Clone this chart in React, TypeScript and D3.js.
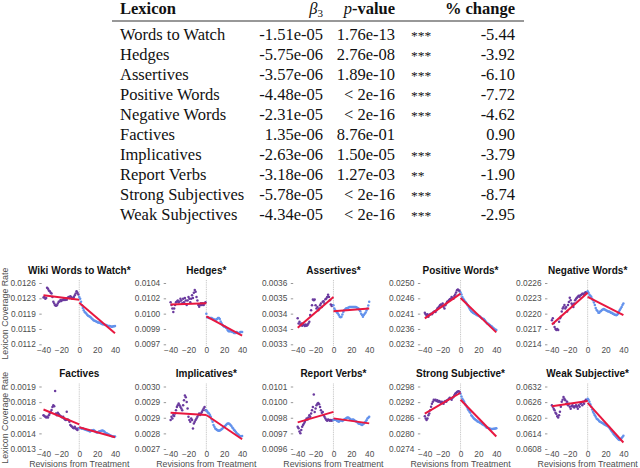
import { useEffect, useRef } from "react";
import * as d3 from "d3";

// ---- table data ----
const lexicons = [
  "Words to Watch",
  "Hedges",
  "Assertives",
  "Positive Words",
  "Negative Words",
  "Factives",
  "Implicatives",
  "Report Verbs",
  "Strong Subjectives",
  "Weak Subjectives",
];
const betas = [
  "-1.51e-05",
  "-5.75e-06",
  "-3.57e-06",
  "-4.48e-05",
  "-2.31e-05",
  "1.35e-06",
  "-2.63e-06",
  "-3.18e-06",
  "-5.78e-05",
  "-4.34e-05",
];
const pValues = [
  "1.76e-13",
  "2.76e-08",
  "1.89e-10",
  "< 2e-16",
  "< 2e-16",
  "8.76e-01",
  "1.50e-05",
  "1.27e-03",
  "< 2e-16",
  "< 2e-16",
];
const stars = ["***", "***", "***", "***", "***", "", "***", "**", "***", "***"];
const changes = ["-5.44", "-3.92", "-6.10", "-7.72", "-4.62", "0.90", "-3.79", "-1.90", "-8.74", "-2.95"];

// ---- panel data (values in units of 1e-5) ----
const UNIT = 1e-5;
const titles = [
  "Wiki Words to Watch*",
  "Hedges*",
  "Assertives*",
  "Positive Words*",
  "Negative Words*",
  "Factives",
  "Implicatives*",
  "Report Verbs*",
  "Strong Subjective*",
  "Weak Subjective*",
];
const xTicks = [-40, -20, 0, 20, 40];

// y tick labels, bottom to top
const wtwTicks = ["0.0112", "0.0115", "0.0119", "0.0123", "0.0126"];
const hedgeTicks = ["0.0097", "0.0099", "0.0100", "0.0102", "0.0104"];
const assertTicks = ["0.0033", "0.0034", "0.0034", "0.0035", "0.0036"];
const posTicks = ["0.0232", "0.0236", "0.0241", "0.0246", "0.0250"];
const negTicks = ["0.0214", "0.0217", "0.0220", "0.0223", "0.0226"];
const factTicks = ["0.0013", "0.0014", "0.0016", "0.0018", "0.0019"];
const implTicks = ["0.0027", "0.0028", "0.0029", "0.0029", "0.0030"];
const reportTicks = ["0.0096", "0.0097", "0.0098", "0.0100", "0.0101"];
const strongTicks = ["0.0274", "0.0280", "0.0286", "0.0292", "0.0298"];
const weakTicks = ["0.0608", "0.0614", "0.0620", "0.0626", "0.0632"];

// pre: revisions -40..-1, post: revisions 0..40
const wtwPre = [1227, 1228, 1224, 1226, 1249, 1247, 1243, 1241, 1238, 1236, 1228, 1217, 1213, 1209, 1208, 1209, 1213, 1217, 1218, 1221, 1219, 1222, 1221, 1224, 1221, 1225, 1222, 1226, 1228, 1226, 1230, 1228, 1224, 1226, 1228, 1232, 1236, 1241, 1238, 1234];
const wtwPost = [1228, 1224, 1217, 1209, 1203, 1198, 1194, 1192, 1190, 1187, 1185, 1184, 1183, 1181, 1179, 1177, 1175, 1174, 1173, 1172, 1171, 1170, 1170, 1169, 1168, 1167, 1166, 1166, 1165, 1164, 1164, 1163, 1162, 1162, 1162, 1161, 1160, 1160, 1161, 1161, 1162];
const hedgePre = [1018, 1015, 1011, 1007, 1011, 1015, 1018, 1019, 1020, 1018, 1019, 1022, 1020, 1017, 1022, 1018, 1023, 1020, 1015, 1020, 1024, 1022, 1018, 1022, 1026, 1023, 1029, 1032, 1030, 1024, 1020, 1015, 1013, 1015, 1017, 1015, 1017, 1015, 1017, 1018];
const hedgePost = [1005, 1001, 1001, 1000, 1000, 1000, 1000, 999, 999, 998, 998, 998, 999, 1000, 1000, 999, 996, 994, 992, 991, 990, 990, 989, 988, 986, 985, 985, 985, 985, 984, 984, 983, 983, 983, 984, 983, 983, 983, 984, 984, 984];
const assertPre = [342.7, 340.2, 341, 339.4, 340.2, 339.1, 340.2, 339.4, 338.9, 339.7, 339.1, 339.4, 340.2, 341, 344.3, 346.7, 349.1, 351.9, 351.6, 351.9, 349.1, 347.5, 348.3, 346.7, 347.5, 349.1, 350, 348.3, 350.8, 351.1, 350, 352.1, 352.4, 353.2, 354.3, 353.2, 351.6, 349.5, 348.8, 349.1];
const assertPost = [349.1, 347.5, 346.7, 346.2, 345.6, 345.1, 344.3, 343.5, 343.2, 343.5, 344.6, 345.8, 346.7, 347, 347.5, 347.6, 347.8, 348, 348.3, 348.3, 348.3, 348.3, 348.3, 348.3, 348.3, 348.2, 348, 347.8, 347.5, 346.8, 346.2, 345, 344.3, 343.5, 344.3, 345, 345.6, 346.5, 347.5, 349, 350.8];
const posPre = [2413, 2408, 2404, 2408, 2401, 2406, 2408, 2410, 2408, 2413, 2415, 2417, 2415, 2420, 2425, 2427, 2430, 2435, 2437, 2435, 2440, 2430, 2425, 2435, 2440, 2445, 2446, 2449, 2452, 2454, 2459, 2456, 2454, 2462, 2466, 2472, 2479, 2481, 2479, 2476];
const posPost = [2472, 2466, 2459, 2454, 2450, 2446, 2443, 2439, 2435, 2430, 2425, 2421, 2417, 2415, 2413, 2411, 2410, 2408, 2406, 2405, 2404, 2402, 2401, 2398, 2396, 2395, 2394, 2391, 2388, 2384, 2381, 2380, 2378, 2376, 2374, 2372, 2369, 2367, 2365, 2363, 2362];
const negPre = [2187, 2191, 2181, 2174, 2170, 2168, 2170, 2168, 2184, 2191, 2194, 2204, 2210, 2213, 2217, 2210, 2213, 2204, 2217, 2223, 2231, 2226, 2220, 2217, 2213, 2220, 2226, 2229, 2231, 2233, 2235, 2233, 2236, 2237, 2239, 2239, 2237, 2241, 2242, 2242];
const negPost = [2244, 2241, 2237, 2235, 2233, 2229, 2226, 2222, 2217, 2211, 2207, 2205, 2202, 2202, 2204, 2205, 2207, 2208, 2209, 2208, 2207, 2206, 2205, 2204, 2204, 2203, 2202, 2202, 2200, 2200, 2198, 2198, 2197, 2198, 2200, 2204, 2207, 2210, 2213, 2217, 2220];
const factPre = [162.5, 161.6, 160.9, 160.3, 160.9, 160.3, 162.5, 164.1, 165.7, 167.5, 170.4, 172, 171, 185.6, 164.1, 162.5, 164.7, 163.5, 162.5, 161.6, 160.9, 160.3, 160.9, 159.3, 158.4, 157.8, 165.7, 158.4, 157.8, 156.2, 153, 152.1, 151.4, 150.5, 149.9, 151.4, 149.9, 148.9, 148.3, 149.9];
const factPost = [149.9, 150.5, 149.9, 149.5, 149.9, 149.2, 148.9, 148.6, 148.3, 148, 147.7, 147.2, 146.7, 147.2, 147.7, 148, 148.3, 147.5, 146.7, 146.2, 145.8, 146.2, 146.7, 147, 147.3, 147.5, 147.7, 147.2, 146.7, 145.9, 145.1, 144.8, 144.5, 144, 143.5, 143, 142.6, 142.3, 142, 142, 142];
const implPre = [283.9, 285.5, 284.7, 286.3, 285.8, 287, 288.6, 290.2, 291, 291.8, 291, 290.2, 289.4, 288.6, 291, 293.4, 295.7, 294.9, 292.6, 289.4, 285.5, 283.9, 283.1, 284.7, 283.9, 279.9, 282.3, 283.1, 283.9, 284.7, 285.5, 286.3, 287, 286.3, 287, 287.8, 288.6, 289.4, 290.2, 288.6];
const implPost = [288.6, 288, 287.4, 287, 286.3, 285.5, 284.2, 283.1, 281.5, 280.7, 279.9, 279.5, 279.1, 278.9, 278.8, 278.9, 279.1, 279.5, 279.9, 280.3, 280.7, 281.1, 281.5, 282, 282.3, 282.2, 282, 281.5, 281, 280.3, 279.9, 279.1, 278.8, 278.2, 277.6, 277.2, 276.8, 276.4, 276, 276.1, 276.3];
const reportPre = [977.9, 976.6, 974, 972.6, 975.3, 977.9, 979.2, 980.5, 981.9, 983.2, 984.5, 983.7, 985.3, 987.1, 985.8, 988.4, 991.1, 993.7, 1003.7, 989.7, 992.4, 995, 996.3, 996.8, 995.8, 993.7, 991.1, 989, 989.7, 987.1, 985.8, 984.5, 983.2, 982.6, 983.7, 983.2, 982.6, 983.2, 982.6, 983.2];
const reportPost = [983.2, 983.5, 983.7, 983.2, 982.6, 982.2, 981.9, 982.5, 983.2, 982.8, 982.4, 983, 983.7, 984, 984.5, 985, 985.3, 985, 984.5, 983.8, 983.2, 983.5, 983.7, 983.2, 982.6, 982.2, 981.9, 981.2, 980.5, 980.2, 980, 979.6, 979.2, 979.8, 980.5, 981.2, 981.9, 983, 984.5, 985.1, 985.8];
const strongPre = [2866, 2857, 2851, 2857, 2870, 2876, 2889, 2902, 2914, 2921, 2929, 2927, 2929, 2924, 2927, 2921, 2924, 2921, 2917, 2921, 2917, 2914, 2921, 2924, 2921, 2927, 2929, 2933, 2937, 2933, 2929, 2937, 2940, 2946, 2952, 2955, 2959, 2961, 2962, 2959];
const strongPost = [2952, 2942, 2933, 2927, 2921, 2914, 2908, 2902, 2895, 2889, 2883, 2879, 2870, 2866, 2861, 2857, 2854, 2851, 2849, 2846, 2845, 2843, 2841, 2839, 2836, 2834, 2832, 2830, 2826, 2823, 2822, 2821, 2820, 2818, 2817, 2817, 2817, 2818, 2818, 2819, 2820];
const weakPre = [6248, 6242, 6235, 6229, 6219, 6214, 6206, 6201, 6210, 6223, 6242, 6261, 6269, 6280, 6273, 6267, 6254, 6261, 6248, 6254, 6242, 6235, 6244, 6248, 6242, 6239, 6244, 6248, 6242, 6235, 6248, 6242, 6254, 6257, 6248, 6261, 6254, 6264, 6269, 6267];
const weakPost = [6273, 6269, 6261, 6252, 6242, 6232, 6223, 6216, 6210, 6204, 6197, 6194, 6191, 6187, 6185, 6183, 6181, 6179, 6176, 6174, 6172, 6170, 6168, 6166, 6163, 6158, 6153, 6148, 6143, 6138, 6134, 6130, 6126, 6122, 6118, 6116, 6115, 6118, 6122, 6126, 6131];

// fitted segments: [pre at -40, pre at 0, post at 0, post at 40]
const wtwFit = [1232, 1222, 1215, 1145];
const hedgeFit = [1015.4, 1017, 1002, 980];
const assertFit = [338.1, 353.2, 346.2, 347.5];
const posFit = [2396, 2469, 2456, 2355];
const negFit = [2179, 2241, 2233, 2197];
const factFit = [167.9, 153.7, 150.8, 141.3];
const implFit = [287.4, 286.3, 286.3, 274.7];
const reportFit = [981.3, 989.7, 984.5, 980.5];
const strongFit = [2876, 2956, 2929, 2788];
const weakFit = [6244, 6264, 6257, 6105];

const panels = [
  { ticks: wtwTicks, pre: wtwPre, post: wtwPost, fit: wtwFit },
  { ticks: hedgeTicks, pre: hedgePre, post: hedgePost, fit: hedgeFit },
  { ticks: assertTicks, pre: assertPre, post: assertPost, fit: assertFit },
  { ticks: posTicks, pre: posPre, post: posPost, fit: posFit },
  { ticks: negTicks, pre: negPre, post: negPost, fit: negFit },
  { ticks: factTicks, pre: factPre, post: factPost, fit: factFit },
  { ticks: implTicks, pre: implPre, post: implPost, fit: implFit },
  { ticks: reportTicks, pre: reportPre, post: reportPost, fit: reportFit },
  { ticks: strongTicks, pre: strongPre, post: strongPost, fit: strongFit },
  { ticks: weakTicks, pre: weakPre, post: weakPost, fit: weakFit },
];

const SERIF = "'Liberation Serif', 'Times New Roman', serif";
const SANS = "'Liberation Sans', Arial, Helvetica, sans-serif";

export default function App() {
  const svgRef = useRef<SVGSVGElement>(null);

  useEffect(() => {
    if (!svgRef.current) return;
    document.body.style.margin = "0";

    const width = 640;
    const height = 468;
    const svg = d3.select(svgRef.current);
    svg.selectAll("*").remove();
    svg.attr("width", width).attr("height", height).attr("viewBox", `0 0 ${width} ${height}`);

    svg.append("rect").attr("width", width).attr("height", height).attr("fill", "#fff");

    // ---------- Table ----------
    const table = svg.append("g").attr("font-family", SERIF).attr("font-size", 16.5).attr("fill", "#111");
    const colName = 120;
    const colBeta = 323;
    const colP = 395;
    const colStar = 411;
    const colChange = 515;
    const headY = 13.5;
    const rowY = d3.scaleLinear().domain([0, lexicons.length - 1]).range([40, 219.5]);

    table.append("text").attr("x", colName).attr("y", headY).attr("font-weight", "bold").text("Lexicon");
    const bh = table.append("text").attr("x", colBeta).attr("y", headY).attr("text-anchor", "end");
    bh.append("tspan").attr("font-style", "italic").text("β");
    bh.append("tspan").attr("font-size", 11).attr("dy", 3).text("3");
    const ph = table.append("text").attr("x", colP).attr("y", headY).attr("text-anchor", "end");
    ph.append("tspan").attr("font-style", "italic").text("p");
    ph.append("tspan").attr("font-weight", "bold").text("-value");
    table
      .append("text")
      .attr("x", colChange)
      .attr("y", headY)
      .attr("text-anchor", "end")
      .attr("font-weight", "bold")
      .text("% change");

    table
      .append("line")
      .attr("x1", 112)
      .attr("x2", 524)
      .attr("y1", 21)
      .attr("y2", 21)
      .attr("stroke", "#333")
      .attr("stroke-width", 1.2);

    lexicons.forEach((name, i) => {
      const y = rowY(i);
      table.append("text").attr("x", colName).attr("y", y).text(name);
      table.append("text").attr("x", colBeta).attr("y", y).attr("text-anchor", "end").text(betas[i]);
      table.append("text").attr("x", colP).attr("y", y).attr("text-anchor", "end").text(pValues[i]);
      table.append("text").attr("x", colStar).attr("y", y).attr("font-size", 13.5).text(stars[i]);
      table.append("text").attr("x", colChange).attr("y", y).attr("text-anchor", "end").text(changes[i]);
    });

    // ---------- Small multiples ----------
    const rows = [
      { top: 283, bottom: 344.3, titleY: 274 },
      { top: 386.5, bottom: 449, titleY: 377 },
    ];
    const purple = "#6a3a9e";
    const blue = "#6392ec";
    const red = "#e8173f";
    const tickFont = 8.3;

    panels.forEach((p, i) => {
      const col = i % 5;
      const row = rows[Math.floor(i / 5)];
      const x0 = 43.5 + col * 127.1;
      const x = d3.scaleLinear().domain([-40, 40]).range([x0, x0 + 71.5]);
      const lo = parseFloat(p.ticks[0]) / UNIT;
      const hi = parseFloat(p.ticks[p.ticks.length - 1]) / UNIT;
      const y = d3.scaleLinear().domain([lo, hi]).range([row.bottom, row.top]);
      const g = svg.append("g").attr("font-family", SANS);

      // title
      g.append("text")
        .attr("x", x(0))
        .attr("y", row.titleY)
        .attr("text-anchor", "middle")
        .attr("font-weight", "bold")
        .attr("font-size", 10)
        .attr("fill", "#111")
        .text(titles[i]);

      // y axis
      const gap = col === 0 ? 1.8 : 4.5;
      const tickVals = p.ticks.map((_, k) => lo + (k * (hi - lo)) / (p.ticks.length - 1));
      const yAxis = d3
        .axisLeft(y)
        .tickValues(tickVals)
        .tickSize(2.4)
        .tickPadding(3.5)
        .tickFormat((_, k) => p.ticks[k]);
      const ya = g.append("g").attr("transform", `translate(${x0 - gap},0)`).call(yAxis);
      ya.select(".domain").remove();
      ya.selectAll(".tick line").attr("stroke", "#999");
      ya.selectAll(".tick text")
        .attr("fill", "#4d4d4d")
        .attr("font-size", tickFont)
        .attr("font-family", SANS);

      // x axis
      const xAxis = d3.axisBottom(x).tickValues(xTicks).tickSize(0).tickPadding(0);
      const xa = g.append("g").attr("transform", `translate(0,${row.bottom + 2.5})`).call(xAxis);
      xa.select(".domain").remove();
      xa.selectAll(".tick text")
        .attr("fill", "#4d4d4d")
        .attr("font-size", tickFont)
        .attr("font-family", SANS);

      // treatment line
      g.append("line")
        .attr("x1", x(0))
        .attr("x2", x(0))
        .attr("y1", row.top - 3)
        .attr("y2", row.bottom + 2)
        .attr("stroke", "#b8b8b8")
        .attr("stroke-width", 0.8)
        .attr("stroke-dasharray", "1,0.8");

      // points
      g.selectAll(".pre")
        .data(p.pre)
        .enter()
        .append("circle")
        .attr("cx", (_, k) => x(k - 40))
        .attr("cy", (d) => y(d))
        .attr("r", 1.25)
        .attr("fill", purple);
      g.selectAll(".post")
        .data(p.post)
        .enter()
        .append("circle")
        .attr("cx", (_, k) => x(k))
        .attr("cy", (d) => y(d))
        .attr("r", 1.25)
        .attr("fill", blue);

      // fitted segments
      const segs = [
        [
          [-40, p.fit[0]],
          [0, p.fit[1]],
        ],
        [
          [0, p.fit[2]],
          [40, p.fit[3]],
        ],
      ];
      const line = d3
        .line<number[]>()
        .x((d) => x(d[0]))
        .y((d) => y(d[1]));
      segs.forEach((s) => {
        g.append("path").attr("d", line(s)).attr("fill", "none").attr("stroke", red).attr("stroke-width", 2);
      });

      // axis titles
      if (col === 0) {
        const cy = (row.top + row.bottom) / 2;
        g.append("text")
          .attr("transform", `translate(8,${cy}) rotate(-90)`)
          .attr("text-anchor", "middle")
          .attr("font-size", 8.8)
          .attr("fill", "#4d4d4d")
          .text("Lexicon Coverage Rate");
      }
      if (i >= 5) {
        g.append("text")
          .attr("x", x(0))
          .attr("y", 466.5)
          .attr("text-anchor", "middle")
          .attr("font-size", 8.8)
          .attr("fill", "#4d4d4d")
          .text("Revisions from Treatment");
      }
    });
  }, []);

  return (
    <div style={{ width: 640, height: 468, overflow: "hidden" }}>
      <svg ref={svgRef}></svg>
    </div>
  );
}
